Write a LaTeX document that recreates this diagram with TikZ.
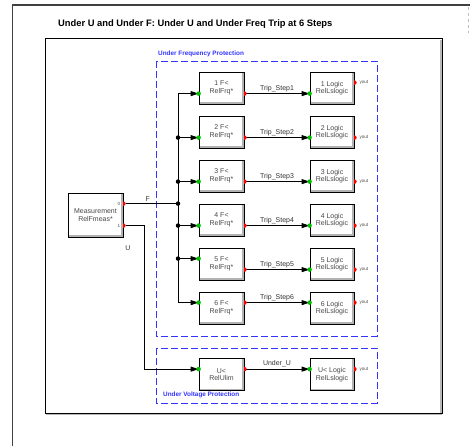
\documentclass[tikz,border=0pt]{standalone}
\usepackage{fontspec}
\setmainfont{Liberation Sans}
\usetikzlibrary{calc,arrows.meta}

\begin{document}
\begin{tikzpicture}[x=1bp,y=-1bp,
	blk/.style={draw,fill=white,line width=0.8bp,minimum width=45bp,minimum height=32bp,inner sep=0pt,align=center,text=black!72,font=\fontsize{7}{7.6}\selectfont},
	gdot/.style={circle,fill=green!75!black,inner sep=0pt,minimum size=4.5bp},
	rdot/.style={circle,fill=red,inner sep=0pt,minimum size=4.5bp},
	jdot/.style={circle,fill=black,inner sep=0pt,minimum size=4.5bp},
	sig/.style={font=\fontsize{7}{7}\selectfont,text=black!80,inner sep=1.5bp},
	tiny/.style={font=\fontsize{4.6}{5}\selectfont,text=black!70,inner sep=0pt},
	wire/.style={line width=1bp},
	feed/.style={wire,-{Triangle[length=8bp,width=5bp]}},
	prot/.style={draw=blue!80,line width=0.9bp,dash pattern=on 7bp off 3bp},
	protlabel/.style={text=blue!80,font=\bfseries\fontsize{6.4}{7}\selectfont,inner sep=0pt,anchor=west}]
	\useasboundingbox (0,0) rectangle (470,446);
	% page frame
	\draw[black!75,line width=1.6bp] (12.5,446) -- (12.5,5) -- (470,5);
	\draw[gray!50,dashed,line width=0.6bp] (468.5,7) -- (468.5,33);
	\node[font=\bfseries\fontsize{9.4}{10}\selectfont,anchor=west,inner sep=0pt] (title) at (58,24) {Under U and Under F: Under U and Under Freq Trip at 6 Steps};
	% diagram frame
	\draw[gray!55,line width=1.6bp] (441,40) -- (441,414) -- (46,414);
	\draw[line width=1bp] (45,39) rectangle (442,413);
	% protection groups
	\draw[prot] (156,61) rectangle (377,336);
	\node[protlabel] (uflbl) at (158,54) {Under Frequency Protection};
	\draw[prot] (156,348) rectangle (377,403);
	\node[protlabel] (uvlbl) at (163,395) {Under Voltage Protection};
	% measurement
	\node[blk,minimum width=55bp,minimum height=44bp] (meas) at (95.5,215) {Measurement\\RelFmeas*};
	\node[rdot] (m0) at ($(meas.north east)+(0,11)$) {};
	\node[rdot] (m1) at ($(meas.north east)+(0,33)$) {};
	\node[tiny,anchor=east] at ($(m0)+(-3,0)$) {0};
	\node[tiny,anchor=east] at ($(m1)+(-3,0)$) {1};
	\coordinate (busx) at (178,204);
	% frequency steps
	\foreach \i/\a/\b/\c in {1/22/22/11,2/22/22/22,3/22/22/22,4/22/22/22,5/11/22/22,6/11/11/11}{
		\node[blk] (frq\i) at (221.5,{88+44*(\i-1)}) {\i\ F<\\RelFrq*};
		\node[blk,minimum width=44bp] (lgc\i) at (332,{88+44*(\i-1)}) {\i\ Logic\\RelLslogic};
		\coordinate (fi\i) at ($(frq\i.north west)+(0,\a)$);
		\coordinate (fo\i) at ($(frq\i.north east)+(0,\b)$);
		\coordinate (li\i) at (lgc\i.west |- fo\i);
		\coordinate (yo\i) at ($(lgc\i.north east)+(0,\c)$);
		\draw[feed] (fi\i -| busx) -- (fi\i);
		\draw[feed] (fo\i) -- (li\i) node[sig,above,midway] {Trip\_Step\i};
		\node[gdot] at (fi\i) {};
		\node[rdot] at (fo\i) {};
		\node[gdot] at (li\i) {};
		\node[rdot] at (yo\i) {};
		\node[tiny,anchor=west] at ($(yo\i)+(5,0)$) {yout};
	}
	% frequency bus
	\draw[wire] (fi1 -| busx) -- (fi6 -| busx);
	\draw[wire] (m0) -- (m0 -| busx) node[sig,above,pos=0.42] {F};
	\foreach \i in {2,...,5}
		\node[jdot] at (fi\i -| busx) {};
	\node[jdot] at (m0 -| busx) {};
	% voltage step
	\node[blk] (ulim) at (221.5,374.5) {U<\\RelUlim};
	\node[blk,minimum width=44bp] (ulgc) at (332,374.5) {U< Logic\\RelLslogic};
	\coordinate (ui) at ($(ulim.north west)+(0,11)$);
	\coordinate (uo) at ($(ulim.north east)+(0,11)$);
	\coordinate (uli) at (ulgc.west |- uo);
	\coordinate (uyo) at ($(ulgc.north east)+(0,11)$);
	\draw[feed] (m1) -- ++(21.5,0) |- (ui);
	\node[sig] (ulbl) at (128,248) {U};
	\draw[feed] (uo) -- (uli) node[sig,above,midway] {Under\_U};
	\node[gdot] at (ui) {};
	\node[rdot] at (uo) {};
	\node[gdot] at (uli) {};
	\node[rdot] at (uyo) {};
	\node[tiny,anchor=west] at ($(uyo)+(5,0)$) {yout};
	% raised block edges
	\foreach \n in {meas,frq1,frq2,frq3,frq4,frq5,frq6,lgc1,lgc2,lgc3,lgc4,lgc5,lgc6,ulim,ulgc}
		\draw[gray!60,line width=1.6bp] ($(\n.north east)+(-1.3,1)$) -- ($(\n.south east)+(-1.3,-1.3)$) -- ($(\n.south west)+(1,-1.3)$);
\end{tikzpicture}
\end{document}
